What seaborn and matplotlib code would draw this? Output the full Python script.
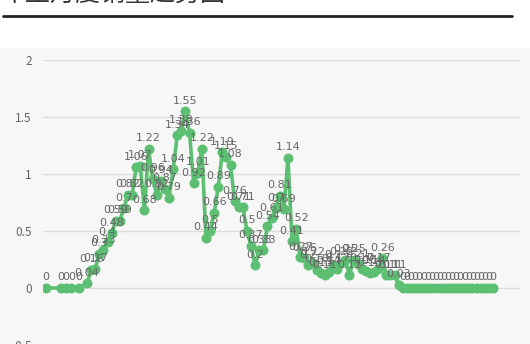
import matplotlib
matplotlib.use("Agg")
import matplotlib.pyplot as plt
from matplotlib.patches import Rectangle
from matplotlib.lines import Line2D
import seaborn as sns
import pandas as pd

# ---- data ----
values = [
    0, 0, 0, 0, 0,
    0.04, 0.16, 0.17, 0.30, 0.33, 0.40, 0.48, 0.59, 0.59, 0.70,
    0.82, 0.82, 1.06, 1.07, 0.68, 1.22, 0.96, 0.82, 0.94, 0.87,
    0.79, 1.04, 1.34, 1.38, 1.55, 1.36, 0.92, 1.01, 1.22, 0.44,
    0.50, 0.66, 0.89, 1.19, 1.15, 1.08, 0.76, 0.71, 0.71, 0.50,
    0.37, 0.20, 0.33, 0.33, 0.54, 0.61, 0.70, 0.81, 0.69, 1.14,
    0.41, 0.52, 0.27, 0.26, 0.20, 0.22, 0.16, 0.13, 0.11, 0.14,
    0.20, 0.17, 0.22, 0.25, 0.11, 0.25, 0.21, 0.17, 0.15, 0.13,
    0.14, 0.17, 0.26, 0.11, 0.11, 0.11, 0.03, 0, 0, 0,
    0, 0, 0, 0, 0, 0, 0, 0, 0, 0,
    0, 0, 0, 0, 0, 0, 0, 0, 0, 0,
]
# day positions of the samples (first days are sparse)
days = [0, 3.6, 4.9, 6.2, 8.0] + list(range(10, 10 + len(values) - 5))
y_ticks = [-0.5, 0, 0.5, 1, 1.5, 2]
y_tick_labels = ["-0.5", "0", "0.5", "1", "1.5", "2"]
title_text = "车型月度销量趋势图"

df = pd.DataFrame({"day": days, "value": values})

sns.set_theme(style="white")
plt.rcParams["font.family"] = ["Noto Sans CJK SC", "DejaVu Sans"]

W, H = 530, 344
fig = plt.figure(figsize=(W / 100, H / 100), dpi=100)
fig.patch.set_facecolor("white")

# light grey panel
fig.patches.append(Rectangle((0, 0), 1, (H - 48) / H, transform=fig.transFigure,
                             facecolor="#f7f7f7", edgecolor="none", zorder=-5))
# header line
fig.lines.append(Line2D([3 / W, 512 / W], [1 - 16 / H, 1 - 16 / H],
                        transform=fig.transFigure, color="#222222", lw=2))
fig.text(0 / W, 1 + 6.5 / H, title_text, fontsize=18, color="#333333",
         ha="left", va="center")

left_px, right_px, top_px, bot_px = 43, 520, 60, 345
ax = fig.add_axes([left_px / W, (H - bot_px) / H, (right_px - left_px) / W,
                   (bot_px - top_px) / H])
ax.set_zorder(5)
ax.set_facecolor("none")

green = "#5cbf72"
sns.lineplot(data=df, x="day", y="value", ax=ax, color=green, linewidth=2.6,
             marker="o", markersize=7.2, markeredgewidth=0, zorder=3)

last = days[-1]
px_per = (493 - 46) / last
ax.set_xlim(-(46 - left_px) / px_per, last + (right_px - 493) / px_per)
ax.set_ylim(-0.5, 2)

for d, v in zip(days, values):
    ax.annotate(f"{v:g}", (d, v), xytext=(0, 4), textcoords="offset points",
                ha="center", va="bottom", fontsize=8, color="#666666", zorder=4,
                family=["DejaVu Sans"])

ax.set_yticks(y_ticks)
ax.set_yticklabels(y_tick_labels)
ax.tick_params(axis="y", length=0, labelsize=8.5, labelcolor="#666666", pad=8)
ax.set_xticks([])
ax.grid(axis="y", color="#dddddd", linewidth=1)
ax.set_axisbelow(True)
for s in ax.spines.values():
    s.set_visible(False)
ax.set_xlabel("")
ax.set_ylabel("")

fig.savefig("out.png", dpi=100)
